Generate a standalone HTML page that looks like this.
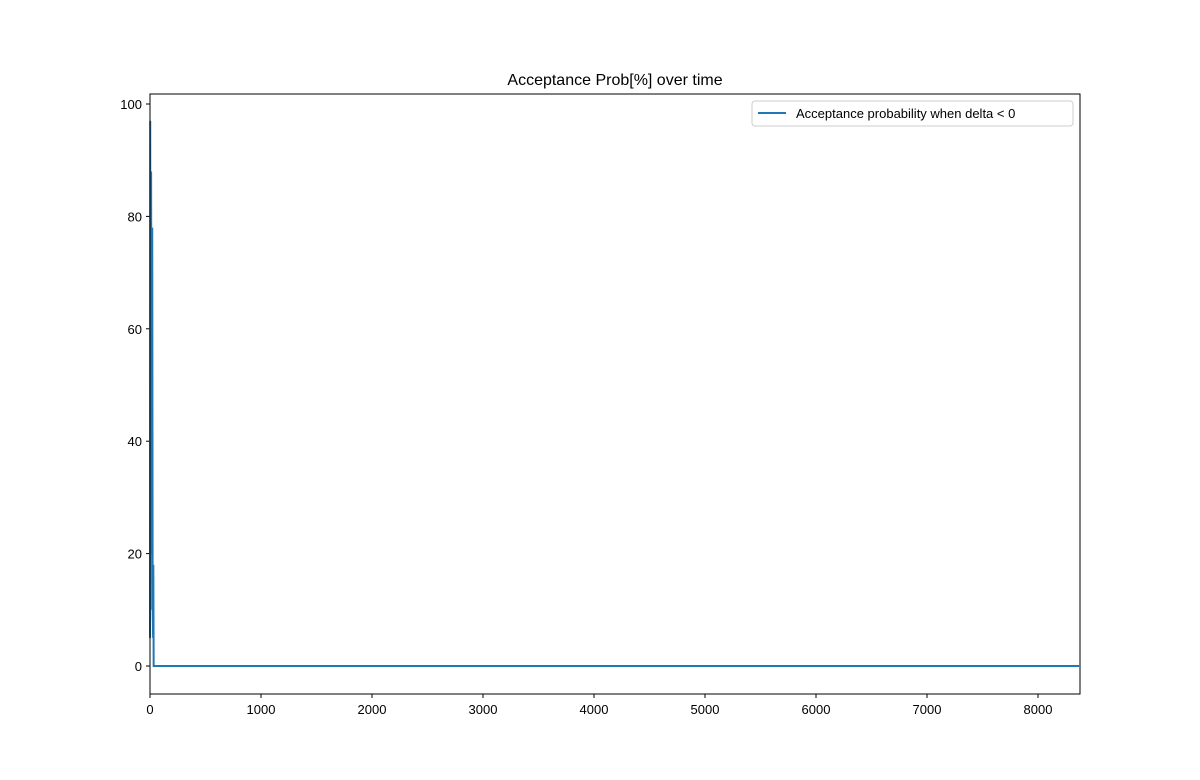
<!DOCTYPE html>
<html><head><meta charset="utf-8"><style>body{margin:0;background:#fff}svg{display:block;font-family:"Liberation Sans",sans-serif}</style></head>
<body>
<svg id="c" width="1200" height="780">
<rect width="1200" height="780" fill="#fff"/>
<text x="615" y="85" text-anchor="middle" font-size="16">Acceptance Prob[%] over time</text>
<g id="plot"></g>
<rect x="150" y="94" width="930" height="600" fill="none" stroke="#000" stroke-width="1"/>
<g>
<rect x="752" y="101" width="321" height="25" rx="3" fill="#fff" stroke="#ccc"/>
<line x1="758" y1="113" x2="786" y2="113" stroke="#1f77b4" stroke-width="2"/>
<text x="796" y="118" font-size="13">Acceptance probability when delta &lt; 0</text>
</g>
</svg>
<script>
const xTicks=[0,1000,2000,3000,4000,5000,6000,7000,8000];
const yTicks=[0,20,40,60,80,100];
const iterations=[0,2,4,8,10,14,18,20,24,28,30,33,35,8370];
const acceptance=[5,97,10,60,88,20,40,78,10,5,18,0,0,0];
const X=v=>150+v*0.111, Y=v=>666-v*5.62;
const ns="http://www.w3.org/2000/svg", g=document.getElementById('plot');
function mk(t,a){const e=document.createElementNS(ns,t);for(const k in a)e.setAttribute(k,a[k]);g.appendChild(e);return e;}
xTicks.forEach(v=>{
 const l=mk('line',{x1:X(v),x2:X(v),y1:694,y2:698,stroke:'#000'});
 
 
 const t=mk('text',{x:X(v),y:714,'text-anchor':'middle','font-size':13});t.textContent=v;
 
 
});
yTicks.forEach(v=>{
 const l=mk('line',{x1:146,x2:150,y1:Y(v),y2:Y(v),stroke:'#000'});
 
 
 const t=mk('text',{x:142,y:Y(v)+5,'text-anchor':'end','font-size':13});t.textContent=v;
 
 
});
const p=mk('polyline',{points:iterations.map((x,i)=>X(x)+','+Y(acceptance[i])).join(' '),fill:'none',stroke:'#1f77b4','stroke-width':2});


</script>
</body></html>
